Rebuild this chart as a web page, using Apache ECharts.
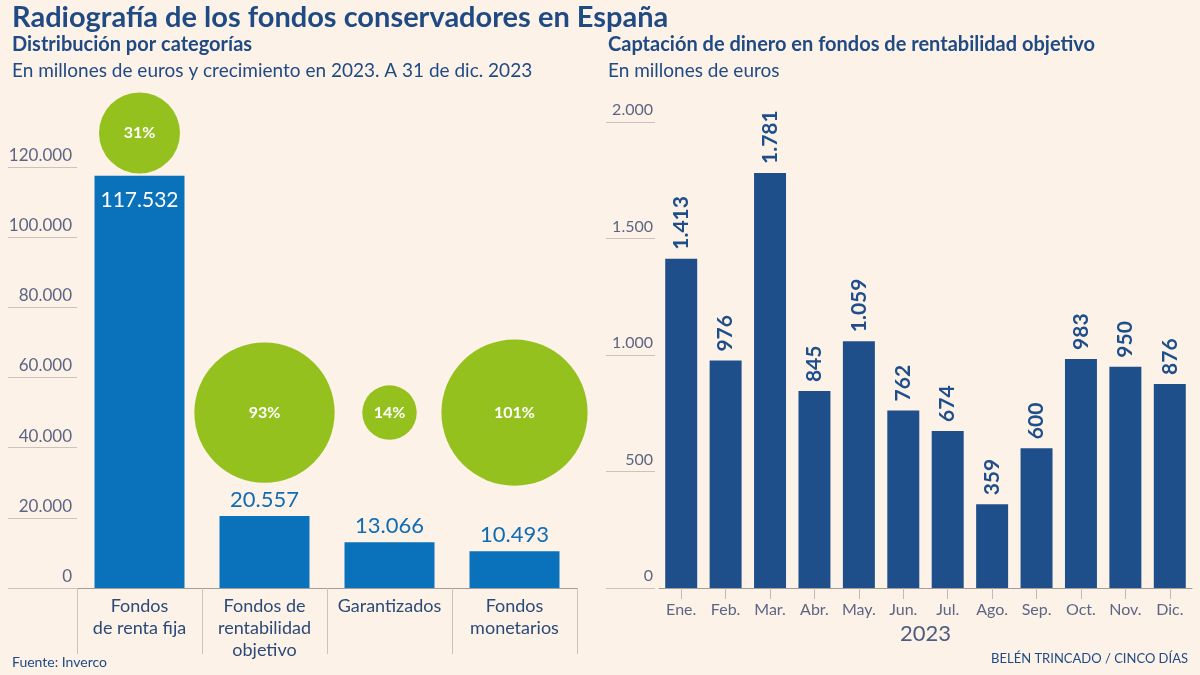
<!DOCTYPE html>
<html>
<head>
<meta charset="utf-8">
<script src="https://cdn.jsdelivr.net/npm/echarts@6/dist/echarts.min.js"></script>
<style>
html,body{margin:0;padding:0;background:#fcf2e8;}
#chart{width:1200px;height:675px;}
</style>
</head>
<body>
<div id="chart"></div>
<script>
// ---- Data ----
const categories = ['Fondos\nde renta fija', 'Fondos de\nrentabilidad\nobjetivo', 'Garantizados', 'Fondos\nmonetarios'];
const assets = [117532, 20557, 13066, 10493];           // millones de euros
const growth = [31, 93, 14, 101];                        // crecimiento 2023 (%)
const leftTicks = [0, 20000, 40000, 60000, 80000, 100000, 120000];

const months = ['Ene.', 'Feb.', 'Mar.', 'Abr.', 'May.', 'Jun.', 'Jul.', 'Ago.', 'Sep.', 'Oct.', 'Nov.', 'Dic.'];
const inflows = [1413, 976, 1781, 845, 1059, 762, 674, 359, 600, 983, 950, 876];
const rightTicks = [0, 500, 1000, 1500, 2000];

// ---- Helpers ----
const fmt = v => String(v).replace(/\B(?=(\d{3})+(?!\d))/g, '.');
const FONT = 'Lato';
const DARK = '#1f4a84';
const AXISGRAY = '#5d6584';

const chart = echarts.init(document.getElementById('chart'));

const option = {
  backgroundColor: '#fcf2e8',
  animation: false,
  textStyle: { fontFamily: FONT },
  graphic: [
    { type: 'text', left: 12, top: 3, style: { text: 'Radiografía de los fondos conservadores en España', font: 'bold 29px ' + FONT, fill: DARK } },
    { type: 'text', left: 12, top: 35, style: { text: 'Distribución por categorías', font: 'bold 20px ' + FONT, fill: DARK } },
    { type: 'text', left: 12, top: 61, style: { text: 'En millones de euros y crecimiento en 2023. A 31 de dic. 2023', font: '19px ' + FONT, fill: DARK } },
    { type: 'text', left: 608, top: 35, style: { text: 'Captación de dinero en fondos de rentabilidad objetivo', font: 'bold 20px ' + FONT, fill: DARK } },
    { type: 'text', left: 608, top: 61, style: { text: 'En millones de euros', font: '19px ' + FONT, fill: DARK } },
    { type: 'text', left: 12, top: 655, style: { text: 'Fuente: Inverco', font: '14px ' + FONT, fill: DARK } },
    { type: 'text', right: 12, top: 652, style: { text: 'BELÉN TRINCADO / CINCO DÍAS', font: '13px ' + FONT, fill: DARK } }
  ],
  grid: [
    { left: 77, right: 623, top: 167, bottom: 87 },
    { left: 659, right: 8, top: 122, bottom: 87 }
  ],
  xAxis: [
    {
      type: 'category', gridIndex: 0, data: categories,
      axisLine: { show: true, lineStyle: { color: '#a39d97', width: 1 } },
      axisTick: { show: true, interval: 0, length: 66, lineStyle: { color: '#cbc3bb' } },
      axisLabel: { interval: 0, color: '#2c4a78', fontSize: 18, lineHeight: 22, margin: 7, fontFamily: FONT }
    },
    {
      type: 'category', gridIndex: 1, data: months,
      name: '2023', nameLocation: 'middle', nameGap: 34,
      nameTextStyle: { color: '#4f5c80', fontSize: 22, fontFamily: FONT },
      axisLine: { show: true, lineStyle: { color: '#a39d97', width: 1 } },
      axisTick: { show: true, alignWithLabel: true, length: 11, lineStyle: { color: '#c2bab2' } },
      axisLabel: { interval: 0, color: AXISGRAY, fontSize: 16, margin: 14, fontFamily: FONT }
    }
  ],
  yAxis: [
    {
      type: 'value', gridIndex: 0, min: leftTicks[0], max: leftTicks[leftTicks.length - 1], interval: leftTicks[1] - leftTicks[0],
      axisLine: { show: false },
      axisTick: { show: true, length: 69, lineStyle: { color: '#cbc3bb' } },
      splitLine: { show: false },
      axisLabel: { color: AXISGRAY, fontSize: 17, margin: 5, verticalAlign: 'bottom', padding: [0, 0, 3, 0], fontFamily: FONT, formatter: v => fmt(v) }
    },
    {
      type: 'value', gridIndex: 1, min: rightTicks[0], max: rightTicks[rightTicks.length - 1], interval: rightTicks[1] - rightTicks[0],
      offset: 4,
      axisLine: { show: false },
      axisTick: { show: true, length: 49, lineStyle: { color: '#cbc3bb' } },
      splitLine: { show: false },
      axisLabel: { color: AXISGRAY, fontSize: 16, margin: 2, verticalAlign: 'bottom', padding: [0, 0, 4, 0], fontFamily: FONT, formatter: v => fmt(v) }
    }
  ],
  series: [
    {
      type: 'bar', xAxisIndex: 0, yAxisIndex: 0,
      barCategoryGap: '28%',
      itemStyle: { color: '#0a72bb' },
      data: assets.map(v => v > 100000
        ? { value: v, label: { position: 'insideTop', distance: 14, color: '#ffffff', fontSize: 21 } }
        : v),
      label: {
        show: true, position: 'top', distance: 5, color: '#106cb4', fontSize: 22, fontFamily: FONT,
        formatter: p => fmt(p.value)
      },
      z: 2
    },
    {
      type: 'scatter', xAxisIndex: 0, yAxisIndex: 0, clip: false,
      data: growth.map((g, i) => [i, assets[i] > 100000 ? 129700 : 50000, g]),
      symbolSize: val => 14.55 * Math.sqrt(val[2]),
      itemStyle: { color: '#95c11f', opacity: 1 },
      label: {
        show: true, position: 'inside', color: '#ffffff', fontWeight: 'bold', fontSize: 16, fontFamily: FONT,
        formatter: p => p.value[2] + '%'
      },
      z: 3
    },
    {
      type: 'bar', xAxisIndex: 1, yAxisIndex: 1,
      barCategoryGap: '28%',
      itemStyle: { color: '#1f4f8a' },
      data: inflows,
      label: {
        show: true, position: 'top', rotate: 90, align: 'left', verticalAlign: 'middle', distance: 9,
        color: '#1f4f8a', fontWeight: 'bold', fontSize: 21, fontFamily: FONT,
        formatter: p => fmt(p.value)
      }
    }
  ]
};
chart.setOption(option);
</script>
</body>
</html>
